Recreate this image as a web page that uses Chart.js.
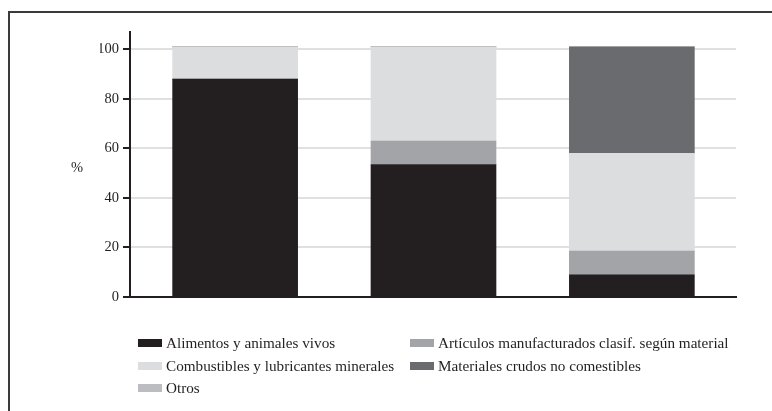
<!DOCTYPE html>
<html>
<head>
<meta charset="utf-8">
<script src="https://cdn.jsdelivr.net/npm/chart.js@4/dist/chart.umd.min.js"></script>
<style>
  html, body { margin: 0; padding: 0; background: #fff; overflow: hidden; }
  #wrap { position: relative; width: 772px; height: 411px; }
  #frame { position: absolute; left: 8px; top: 11px; width: 900px; height: 600px;
           border: 2px solid #3a3a3a; box-sizing: border-box; }
  canvas { position: absolute; left: 0; top: 0; }
  #legend { position: absolute; left: 138px; top: 332px;
            display: grid; grid-template-columns: 272px 340px; grid-auto-rows: 22.5px;
            font-family: "Liberation Serif", "DejaVu Serif", serif; font-size: 15.2px; color: #231f20; }
  .item { display: flex; align-items: center; white-space: nowrap; }
  .sw { width: 24px; height: 8px; margin-right: 4px; flex: none; }
</style>
</head>
<body>
<div id="wrap">
  <div id="frame"></div>
  <canvas id="c" width="772" height="411"></canvas>
  <div id="legend"></div>
</div>
<script>
const categories = ['Grupo 1', 'Grupo 2', 'Grupo 3'];
const seriesNames = [
  'Alimentos y animales vivos',
  'Artículos manufacturados clasif. según material',
  'Combustibles y lubricantes minerales',
  'Materiales crudos no comestibles',
  'Otros'
];
const alimentos    = [88, 53.5, 9];
const articulos    = [0, 9.5, 9.5];
const combustibles = [13, 38, 39.5];
const materiales   = [0, 0, 43];
const otros        = [0, 0, 0];
const yTicks = [0, 20, 40, 60, 80, 100];
const colors = ['#231f20', '#a3a4a7', '#dcdddf', '#6a6b6f', '#bcbdc0'];

const seriesData = [alimentos, articulos, combustibles, materiales, otros];
const FONT = '"Liberation Serif", "DejaVu Serif", serif';

const datasets = seriesNames.map((n, i) => ({
  label: n,
  data: categories.map((c, k) => ({ x: k, y: seriesData[i][k] })),
  backgroundColor: colors[i],
  borderWidth: 0,
  barThickness: 125
}));

const percentLabel = {
  id: 'percentLabel',
  afterDraw(chart) {
    const ctx = chart.ctx;
    const y = chart.scales.y;
    ctx.save();
    ctx.font = '14.5px ' + FONT;
    ctx.fillStyle = '#231f20';
    ctx.textAlign = 'center';
    ctx.textBaseline = 'middle';
    ctx.fillText('%', chart.chartArea.left - 53, y.getPixelForValue(52));
    ctx.restore();
  }
};

new Chart(document.getElementById('c'), {
  type: 'bar',
  data: { datasets },
  options: {
    responsive: false,
    animation: false,
    devicePixelRatio: 1,
    layout: { padding: { left: 100, right: 36, top: 32, bottom: 114 } },
    plugins: { legend: { display: false }, tooltip: { enabled: false }, title: { display: false } },
    scales: {
      x: {
        type: 'linear',
        stacked: true,
        offset: false,
        min: -0.53,
        max: 2.525,
        ticks: { display: false },
        grid: { display: true, drawOnChartArea: false, drawTicks: false },
        border: { display: true, color: '#231f20', width: 2 },
        afterFit(s) { s.height = 0; }
      },
      y: {
        stacked: true,
        min: 0,
        max: 107,
        afterBuildTicks(s) { s.ticks = yTicks.map(v => ({ value: v })); },
        ticks: { font: { family: FONT, size: 14.5 }, color: '#231f20', padding: 4 },
        grid: { color: '#e0e0e0', lineWidth: 2, tickColor: '#231f20', tickWidth: 2, tickLength: 7 },
        border: { display: true, color: '#231f20', width: 2 },
        afterFit(s) { s.width = 30; }
      }
    }
  },
  plugins: [percentLabel]
});

const legend = document.getElementById('legend');
seriesNames.forEach((n, i) => {
  const it = document.createElement('div');
  it.className = 'item';
  const sw = document.createElement('span');
  sw.className = 'sw';
  sw.style.background = colors[i];
  const tx = document.createElement('span');
  tx.textContent = n;
  it.appendChild(sw);
  it.appendChild(tx);
  legend.appendChild(it);
});
</script>
</body>
</html>
